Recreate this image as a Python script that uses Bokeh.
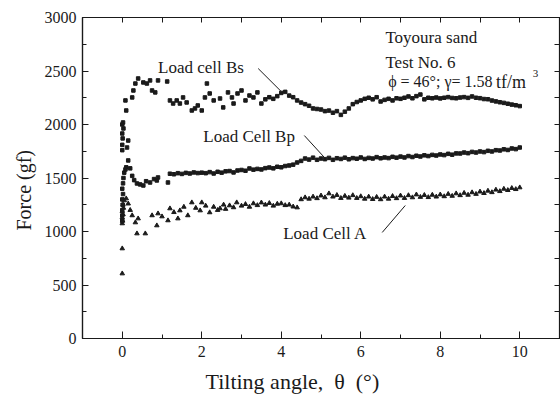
from bokeh.plotting import figure
from bokeh.models import LinearAxis, FixedTicker, Label, Range1d, Title
from bokeh.embed import file_html
from bokeh.resources import INLINE
import numpy as np

# ---------------- data ----------------
# Load cell Bs : start-up part (irregular angles)
bs_early_angle = [0.00, 0.00, 0.01, 0.00, 0.03, 0.00, 0.02, 0.08, 0.10, 0.12, 0.15,
                  0.25, 0.28, 0.33, 0.40, 0.53, 0.62, 0.70, 0.75, 0.83, 0.90, 1.13,
                  1.20, 1.28, 1.37, 1.45, 1.53, 1.62, 1.75, 1.83, 1.90, 2.00, 2.08,
                  2.13, 2.20, 2.30, 2.46, 2.54, 2.66, 2.76, 2.80]
bs_early_force = [1760, 1810, 1870, 1916, 1963, 2000, 2019, 2225, 2131, 1785, 1850,
                  2253, 2318, 2383, 2430, 2393, 2383, 2412, 2318, 2300, 2412, 2402,
                  2225, 2196, 2225, 2196, 2253, 2206, 2131, 2150, 2178, 2131, 2253,
                  2383, 2290, 2225, 2243, 2160, 2300, 2253, 2196]
# Load cell Bs : regular logging 2.9 .. 10.0 deg, step 0.1
bs_angle_start, bs_angle_step = 2.9, 0.1
bs_force = [2290, 2318, 2225, 2271, 2253, 2300, 2196, 2235, 2255, 2240,
            2265, 2295, 2305, 2270, 2255, 2225, 2205, 2190, 2175, 2150,
            2145, 2140, 2125, 2130, 2110, 2125, 2090, 2120, 2150, 2190,
            2210, 2225, 2240, 2250, 2235, 2255, 2215, 2230, 2240, 2225,
            2245, 2240, 2250, 2262, 2245, 2265, 2280, 2235, 2250, 2245,
            2252, 2244, 2250, 2256, 2248, 2245, 2252, 2256, 2249, 2262,
            2250, 2246, 2238, 2236, 2224, 2216, 2208, 2202, 2194, 2186,
            2180, 2172]

# Load Cell Bp
bp_early_angle = [0.00, 0.00, 0.00, 0.01, 0.00, 0.02, 0.00, 0.02, 0.03, 0.05, 0.08,
                  0.10, 0.15, 0.20, 0.25, 0.30, 0.37, 0.45, 0.53, 0.60, 0.70, 0.80,
                  0.87, 0.90, 1.15, 1.20, 1.30, 1.40, 1.50, 1.60, 1.70, 1.80, 1.90]
bp_early_force = [1100, 1150, 1200, 1250, 1300, 1350, 1400, 1450, 1500, 1550, 1580,
                  1600, 1664, 1590, 1520, 1480, 1449, 1440, 1430, 1470, 1458, 1490,
                  1477, 1505, 1458, 1540, 1535, 1545, 1538, 1548, 1542, 1552, 1546]
bp_angle_start, bp_angle_step = 2.0, 0.1
bp_force = [1550, 1545, 1555, 1542, 1558, 1550, 1562, 1565, 1552, 1570,
            1575, 1568, 1589, 1578, 1585, 1580, 1592, 1598, 1590, 1605,
            1600, 1612, 1617, 1625, 1645, 1660, 1682, 1672, 1690, 1670,
            1682, 1676, 1688, 1670, 1685, 1678, 1690, 1675, 1686, 1680,
            1692, 1678, 1688, 1682, 1695, 1684, 1692, 1686, 1698, 1690,
            1700, 1692, 1705, 1696, 1708, 1701, 1712, 1705, 1716, 1710,
            1720, 1714, 1726, 1718, 1730, 1729, 1738, 1732, 1744, 1738,
            1748, 1742, 1754, 1748, 1760, 1757, 1768, 1762, 1776, 1770,
            1785]

# Load Cell A
a_early_angle = [0.00, 0.00, 0.00, 0.01, 0.00, 0.02, 0.00, 0.03, 0.02, 0.05, 0.10,
                 0.15, 0.20, 0.25, 0.33, 0.37, 0.40, 0.58, 0.75, 0.87, 0.90, 1.00,
                 1.15, 1.20, 1.30, 1.40, 1.45, 1.55, 1.65, 1.75, 1.85, 1.96, 2.00,
                 2.10, 2.20, 2.30, 2.40, 2.46, 2.55, 2.60, 2.70, 2.80, 2.88]
a_early_force = [607, 841, 1075, 1100, 1130, 1160, 1190, 1220, 1250, 1290, 1308,
                 1260, 1200, 1150, 1084, 981, 1121, 981, 1150, 1056, 1168, 1140,
                 1103, 1215, 1180, 1121, 1196, 1230, 1150, 1271, 1220, 1196, 1271,
                 1240, 1178, 1230, 1200, 1215, 1250, 1210, 1243, 1225, 1271]
a_angle_start, a_angle_step = 3.0, 0.1
a_force = [1240, 1255, 1230, 1262, 1245, 1270, 1250, 1265, 1240, 1258,
           1262, 1245, 1250, 1232, 1224, 1300, 1318, 1305, 1325, 1310,
           1335, 1318, 1355, 1325, 1340, 1312, 1332, 1315, 1338, 1312,
           1328, 1305, 1325, 1302, 1322, 1300, 1325, 1305, 1330, 1310,
           1335, 1312, 1338, 1318, 1345, 1322, 1340, 1320, 1342, 1325,
           1345, 1328, 1350, 1332, 1355, 1338, 1360, 1342, 1365, 1350,
           1372, 1358, 1380, 1366, 1390, 1376, 1398, 1386, 1405, 1395,
           1411]

x_major_ticks = [0, 2, 4, 6, 8, 10]
x_minor_ticks = [1, 3, 5, 7, 9]
y_major_ticks = [0, 500, 1000, 1500, 2000, 2500, 3000]
y_minor_ticks = [250, 750, 1250, 1750, 2250, 2750]


def angles(start, step, n):
    return list(np.round(start + step * np.arange(n), 2))


bs_x = bs_early_angle + angles(bs_angle_start, bs_angle_step, len(bs_force))
bs_y = bs_early_force + bs_force
bp_x = bp_early_angle + angles(bp_angle_start, bp_angle_step, len(bp_force))
bp_y = bp_early_force + bp_force
a_x = a_early_angle + angles(a_angle_start, a_angle_step, len(a_force))
a_y = a_early_force + a_force

# ---------------- figure ----------------
FONT = "Liberation Serif"
INK = "#1a1a1a"

p = figure(width=560, height=402, x_range=Range1d(-1, 11), y_range=Range1d(0, 3000),
           output_backend="svg", toolbar_location=None,
           min_border_left=82, min_border_right=1, min_border_top=17, min_border_bottom=64)
p.background_fill_color = "white"
p.border_fill_color = "white"
p.outline_line_color = INK
p.outline_line_width = 1.2
p.xgrid.visible = False
p.ygrid.visible = False

# bottom axis
xa = p.xaxis[0]
xa.ticker = FixedTicker(ticks=x_major_ticks, minor_ticks=x_minor_ticks)
xa.major_tick_in = 7
xa.major_tick_out = 0
xa.minor_tick_in = 4
xa.minor_tick_out = 0
xa.axis_line_color = INK
xa.axis_line_width = 1.2
xa.major_tick_line_color = INK
xa.minor_tick_line_color = INK
xa.major_label_text_font = FONT
xa.major_label_text_font_size = "16px"
xa.major_label_text_color = INK
xa.major_label_standoff = 7

# left axis
ya = p.yaxis[0]
ya.ticker = FixedTicker(ticks=y_major_ticks, minor_ticks=y_minor_ticks)
ya.major_tick_in = 6
ya.major_tick_out = 0
ya.minor_tick_in = 4
ya.minor_tick_out = 0
ya.axis_line_color = INK
ya.axis_line_width = 1.2
ya.major_tick_line_color = INK
ya.minor_tick_line_color = INK
ya.major_label_text_font = FONT
ya.major_label_text_font_size = "16px"
ya.major_label_text_color = INK
ya.major_label_standoff = 6

# top axis (ticks only)
top = LinearAxis(ticker=FixedTicker(ticks=list(range(0, 11)), minor_ticks=[]),
                 major_label_text_font_size="0px", major_label_standoff=0,
                 major_tick_in=5, major_tick_out=0,
                 minor_tick_in=0, minor_tick_out=0, axis_line_color=INK,
                 major_tick_line_color=INK)
p.add_layout(top, "above")
# right axis (ticks only)
right = LinearAxis(ticker=FixedTicker(ticks=sorted(y_major_ticks + y_minor_ticks), minor_ticks=[]),
                   major_label_text_font_size="0px", major_label_standoff=0,
                   major_tick_in=5, major_tick_out=0,
                   minor_tick_in=0, minor_tick_out=0, axis_line_color=INK,
                   major_tick_line_color=INK)
p.add_layout(right, "right")

# axis titles as side titles (so they can be offset like in the reference)
NB = "\u00a0"
p.add_layout(Title(text="Tilting angle," + NB * 2 + "θ" + NB * 2 + "(°)", align="left", offset=123,
                   text_font=FONT, text_font_size="22px", text_font_style="normal",
                   text_color=INK, standoff=15), "below")
p.add_layout(Title(text="Force (gf)", align="left", offset=108,
                   text_font=FONT, text_font_size="20px", text_font_style="normal",
                   text_color=INK, standoff=13), "left")

# data
p.scatter(bs_x, bs_y, marker="square", size=3.5, color=INK)
p.scatter(bp_x, bp_y, marker="square", size=3.5, color=INK)
p.scatter(a_x, a_y, marker="triangle", size=4.5, color=INK)

# pointer lines
p.segment(x0=[3.42, 4.58, 6.54], y0=[2523, 1897, 991],
          x1=[4.00, 5.11, 7.12], y1=[2308, 1682, 1243], line_color=INK, line_width=1)


def lab(x, y, t, size, baseline="middle", align="left"):
    p.add_layout(Label(x=x, y=y, text=t, text_font=FONT, text_font_size=size,
                       text_color=INK, text_baseline=baseline, text_align=align))


lab(0.9, 2530, "Load cell Bs", "17px")
lab(2.04, 1888, "Load Cell Bp", "17px")
lab(4.05, 981, "Load Cell A", "17px")
lab(6.62, 2813, "Toyoura sand", "17px")
lab(6.62, 2580, "Test No. 6", "17px")
lab(6.69, 2400, "ϕ = 46°; γ= 1.58", "16px", "alphabetic")
lab(9.40, 2400, "tf/m", "18px", "alphabetic")
lab(10.33, 2475, "3", "11px", "alphabetic")

open("out.html", "w").write(file_html(p, INLINE))
